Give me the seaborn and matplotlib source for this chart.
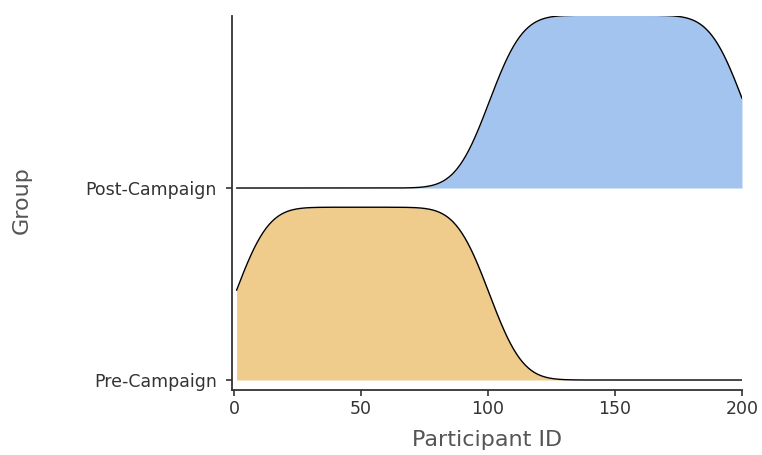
import numpy as np
import pandas as pd
import matplotlib
matplotlib.use("Agg")
import matplotlib.pyplot as plt
import seaborn as sns
from seaborn._statistics import KDE

# ---- data ----
groups = ["Pre-Campaign", "Post-Campaign"]
# participant id ranges (inclusive) in each group
pre_first, pre_last = 1, 100
post_first, post_last = 101, 200
fill_colors = ["#EFCB8C", "#A4C4F0"]
x_ticks = [0, 50, 100, 150, 200]

ids = {
    "Pre-Campaign": np.arange(pre_first, pre_last + 1),
    "Post-Campaign": np.arange(post_first, post_last + 1),
}
df = pd.DataFrame(
    [(g, v) for g in groups for v in ids[g]], columns=["Group", "Participant ID"]
)

sns.set_theme(style="ticks")
plt.rcParams["font.family"] = ["DejaVu Sans"]

fig = plt.figure(figsize=(7.62, 4.55), dpi=100)
ax = fig.add_axes([232 / 762, 1 - 390 / 455, (742 - 232) / 762, (390 - 16) / 455])

lo, hi = df["Participant ID"].min(), df["Participant ID"].max()
curves = []
for g in groups:
    vals = df.loc[df["Group"] == g, "Participant ID"].to_numpy(dtype=float)
    kde = KDE(bw_adjust=0.9, gridsize=512, cut=20, clip=(lo, hi))
    dens, sup = kde(vals)
    curves.append((sup, dens))

dmax = max(d.max() for _, d in curves)
scale = 0.9 / dmax

for i in reversed(range(len(groups))):
    sup, dens = curves[i]
    y = i + dens * scale
    ax.fill_between(sup, i, y, color=fill_colors[i], lw=0, zorder=2 + (1 - i) * 2)
    ax.plot(sup, y, color="black", lw=1.0, zorder=3 + (1 - i) * 2)

ax.set_xlim(-0.8, 200)
ax.set_ylim(-0.052, 1.896)
ax.set_xticks(x_ticks)
ax.set_yticks(range(len(groups)))
ax.set_yticklabels(groups)
ax.set_xlabel("Participant ID", fontsize=16, color="#555555", labelpad=9)
ax.set_ylabel("Group", fontsize=16, color="#555555")
ax.yaxis.set_label_coords((32 - 232) / 510, (390 - 200) / 374)
ax.tick_params(axis="both", labelsize=12.5, colors="#333333", length=4, width=1.2)
ax.tick_params(axis="y", pad=7)
ax.tick_params(axis="x", pad=3)
sns.despine(ax=ax)
for s in ["left", "bottom"]:
    ax.spines[s].set_color("#333333")
    ax.spines[s].set_linewidth(1.3)
ax.grid(False)

fig.savefig("out.png", dpi=100)
